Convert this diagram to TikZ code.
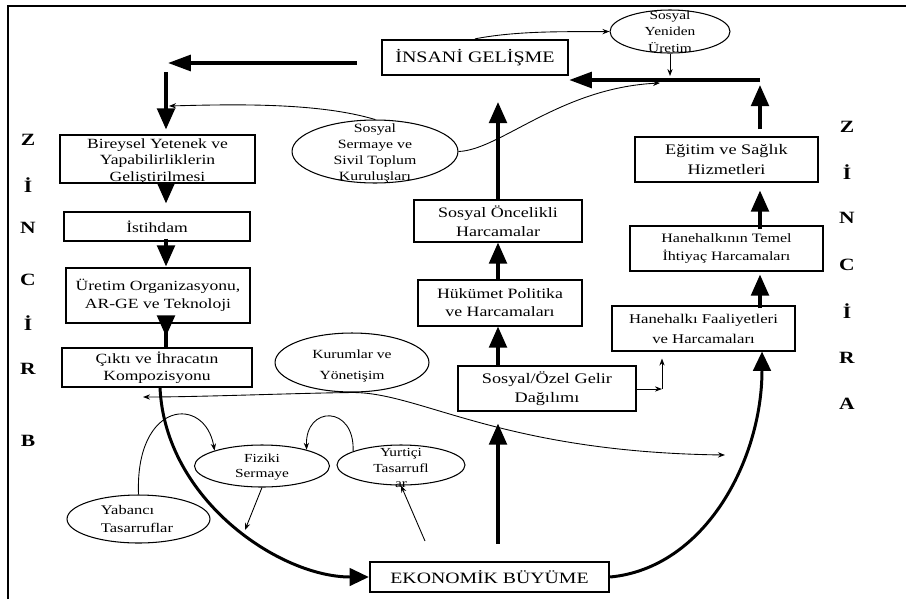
\documentclass[tikz,border=0pt]{standalone}
\usepackage{fontspec}
\setmainfont{Liberation Serif}[FakeStretch=1.25]
\usetikzlibrary{arrows.meta,shapes.geometric}
\newcommand\myfs[2]{\fontsize{#1}{#2}\selectfont}
\begin{document}
\begin{tikzpicture}[x=0.02cm,y=-0.02cm,
  box/.style 2 args={draw, line width=0.6pt, rectangle, inner sep=0pt,
     minimum width=#1*0.02cm, minimum height=#2*0.02cm, align=center},
  bigbox/.style 2 args={box={#1}{#2}, line width=1.3pt},
  ell/.style 2 args={draw, line width=0.6pt, ellipse, inner sep=0pt,
     minimum width=#1*0.04cm, minimum height=#2*0.04cm},
  txt/.style={inner sep=0pt, align=center},
  letter/.style={inner sep=0pt, font=\myfs{9.8}{10}\bfseries},
  varrow/.style={line width=2pt, -{Triangle[length=12pt,width=10pt]}},
  harrow/.style={line width=2pt, -{Triangle[length=13pt,width=9pt]}},
  carrow/.style={line width=1.7pt, -{Triangle[length=11pt,width=10pt]}},
  tarrow/.style={line width=0.5pt, -{Stealth[length=4pt,width=3pt]}},
]
\useasboundingbox (0,0) rectangle (906,599);
\draw[line width=0.6pt] (8,599) -- (8,6) -- (906,6);

% ---- boxes
\node[bigbox={186}{35}, font=\myfs{9.1}{11}] (insani) at (475,57.5) {İNSANİ GELİŞME};
\node[bigbox={239}{30}, font=\myfs{9}{11}] (ekonomik) at (489.5,577) {EKONOMİK BÜYÜME};
\node[box={195}{48}] (bireysel) at (157.5,159) {};
\node[txt, font=\myfs{8}{9.6}] (bireyselt) at (157.5,161.5) {Bireysel Yetenek ve\\Yapabilirliklerin\\Geliştirilmesi};
\node[box={186}{29}, font=\myfs{8}{10}] (istihdam) at (157,226.5) {İstihdam};
\node[box={184}{55}, font=\myfs{8}{10.2}] (uretim) at (158,295.5) {Üretim Organizasyonu,\\AR-GE ve Teknoloji};
\node[box={190}{39}, font=\myfs{8}{9.6}] (cikti) at (157,367.5) {Çıktı ve İhracatın\\Kompozisyonu};
\node[box={168}{42}, font=\myfs{8.2}{10.8}] (sosyaloncelikli) at (498,221) {Sosyal Öncelikli\\Harcamalar};
\node[box={164}{46}, font=\myfs{8.1}{10.2}] (hukumet) at (500,303) {Hükümet Politika\\ve Harcamaları};
\node[box={178}{45}, font=\myfs{8.3}{10.8}] (gelir) at (547,388.5) {Sosyal/Özel Gelir\\Dağılımı};
\node[box={183}{45}, font=\myfs{8.3}{11.3}] (egitim) at (726.5,159.5) {Eğitim ve Sağlık\\Hizmetleri};
\node[box={193}{45}, font=\myfs{7.3}{10.2}] (temel) at (726.5,248.5) {Hanehalkının Temel\\İhtiyaç Harcamaları};
\node[box={183}{45}, font=\myfs{7.6}{11.3}] (faaliyet) at (703.5,328.5) {Hanehalkı Faaliyetleri\\ve Harcamaları};

% ---- ellipses
\node[ell={60}{21.5}] (yeniden) at (670,31.5) {};
\node[txt, font=\myfs{7}{9.4}] (yenident) at (670,31.7) {Sosyal\\Yeniden\\Üretim};
\node[ell={83}{31.5}] (sermaye) at (375,151.5) {};
\node[txt, font=\myfs{7.2}{9.2}] (sermayet) at (375,153.5) {Sosyal\\Sermaye ve\\Sivil Toplum\\Kuruluşları};
\node[ell={77}{29.5}] (kurumlar) at (352,362.5) {};
\node[txt, font=\myfs{7.1}{12.5}] (kurumlart) at (352,366) {Kurumlar ve\\Yönetişim};
\node[ell={67.5}{21}] (fiziki) at (262,466) {};
\node[txt, font=\myfs{7}{8.5}] (fizikit) at (262,467.5) {Fiziki\\Sermaye};
\node[ell={64}{20}] (yurtici) at (401,465) {};
\node[txt, font=\myfs{7}{9}] (yurticit) at (401,468) {Yurtiçi\\Tasarrufl\\ar};
\node[ell={71.5}{24}] (yabanci) at (138.5,519) {};
\node[txt, align=left, font=\myfs{7.5}{10.2}] (yabancit) at (137,519) {Yabancı\\Tasarruflar};

% ---- side letters
\node[letter] (lz) at (28,140) {Z};
\node[letter] (li1) at (28,185) {İ};
\node[letter] (ln) at (28,228) {N};
\node[letter] (lc) at (28,280) {C};
\node[letter] (li2) at (28,323) {İ};
\node[letter] (lr) at (28,369) {R};
\node[letter] (lb) at (28,441) {B};
\node[letter] (rz) at (847,127) {Z};
\node[letter] (ri1) at (847,172) {İ};
\node[letter] (rn) at (847,218) {N};
\node[letter] (rc2) at (847,265) {C};
\node[letter] (ri2) at (847,311) {İ};
\node[letter] (rr) at (847,358) {R};
\node[letter] (ra) at (847,404) {A};

% ---- left column
\coordinate (hl) at (168,63);
\draw[harrow, shorten <=0.48cm] (insani.west |- hl) -- (hl);
\coordinate (vl) at (166,72);
\draw[varrow, shorten >=0.1cm] (vl) -- (vl |- bireysel.north);
\coordinate (sk) at (169,106);
\draw[tarrow] (sermaye.north) .. controls (320,103) and (240,104) .. (sk);
\draw[varrow, shorten <=-0.14cm, shorten >=0.16cm] (bireysel.south -| vl) -- (istihdam.north -| vl);
\draw[varrow, shorten <=-0.06cm, shorten >=0.02cm] (istihdam.south -| vl) -- (uretim.north -| vl);
\draw[varrow, shorten <=-0.5cm, shorten >=0.22cm] (uretim.south -| vl) -- (cikti.north -| vl);

% ---- middle column
\coordinate (cu) at (498,102);
\draw[varrow] (sosyaloncelikli.north) -- (cu);
\draw[varrow] (hukumet.north -| sosyaloncelikli) -- (sosyaloncelikli.south);
\draw[varrow] (gelir.north -| sosyaloncelikli) -- (hukumet.south -| sosyaloncelikli);
\draw[varrow, shorten <=0.34cm, shorten >=0.24cm] (ekonomik.north -| sosyaloncelikli) -- (gelir.south -| sosyaloncelikli);

\coordinate (gc) at (662,389);
\draw[tarrow] (gelir.east |- gc) -- (gc);
\draw[tarrow, shorten >=0.14cm] (gc) -- (gc |- faaliyet.south);

% ---- right column
\coordinate (rcol) at (760,300);
\draw[varrow, shorten <=-0.06cm, shorten >=0.06cm] (faaliyet.north -| rcol) -- (temel.south -| rcol);
\draw[varrow, shorten <=-0.08cm, shorten >=0.16cm] (temel.north -| rcol) -- (egitim.south -| rcol);
\coordinate (rc) at (760,80);
\draw[varrow, shorten <=0.14cm, shorten >=0.1cm] (egitim.north -| rc) -- (rc);
\draw[harrow] (rc) -- (insani.east |- rc);
\draw[tarrow, shorten >=0.08cm] (yeniden.south) -- (yeniden.south |- rc);
\draw[tarrow] (insani.north) .. controls (520,30) and (575,32) .. (yeniden.west);
\coordinate (sc) at (660,83);
\draw[tarrow] (sermaye.east) .. controls (500,150) and (560,88) .. (sc);

% ---- big curves
\coordinate (cs) at (160,387);
\draw[carrow] (cikti.south -| cs) .. controls (165,500) and (280,577) .. (ekonomik.west);
\coordinate (fc) at (762,352);
\draw[carrow] (ekonomik.east) .. controls (705,568) and (762,460) .. (faaliyet.south -| fc);

% ---- institutions
\coordinate (kl) at (143,397);
\coordinate (kr) at (725,455);
\draw[tarrow] (kurumlar.south) .. controls (300,393) and (200,397) .. (kl);
\draw[tarrow] (kurumlar.south) .. controls (420,392) and (500,452) .. (kr);

% ---- savings
\draw[tarrow] (yabanci.north) .. controls (135,400) and (205,395) .. (fiziki.162);
\draw[tarrow] (yurtici.164) .. controls (355,405) and (305,405) .. (fiziki.20);
\coordinate (fd) at (245,530);
\draw[tarrow] (fiziki.south) -- (fd);
\coordinate (yd) at (425,541);
\draw[tarrow] (yd) -- (yurtici.south);
\end{tikzpicture}
\end{document}
